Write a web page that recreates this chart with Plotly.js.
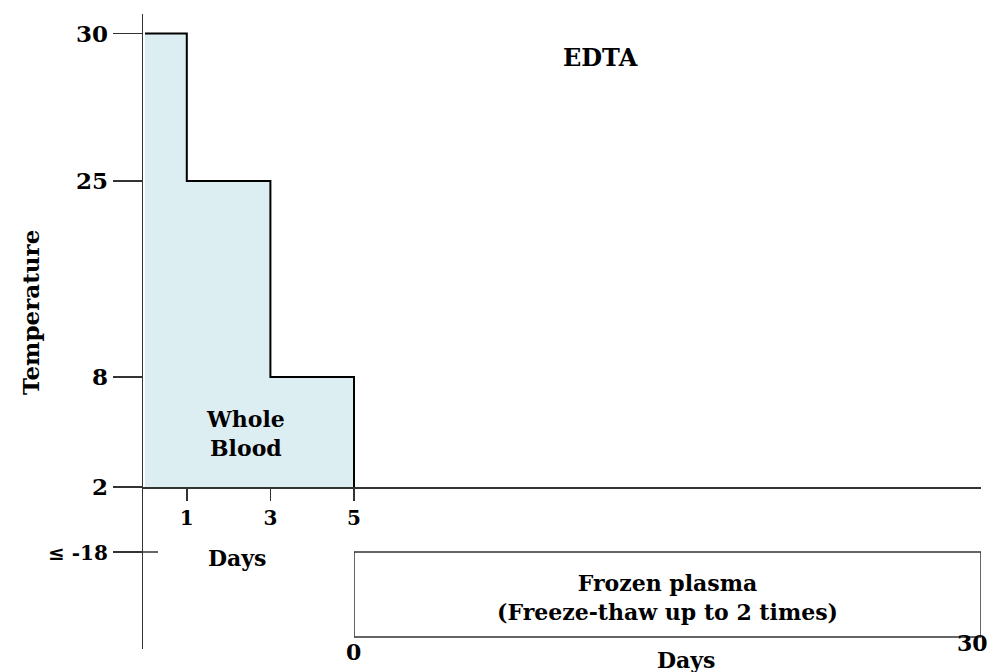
<!DOCTYPE html>
<html>
<head>
<meta charset="utf-8">
<script src="https://cdn.plot.ly/plotly-3.0.1.min.js"></script>
<style>
  html, body { margin: 0; padding: 0; background: #ffffff; }
  #chart { width: 995px; height: 672px; }
</style>
</head>
<body>
<div id="chart"></div>
<script>
// ---------- data ----------
const tempTicks   = [30, 25, 8, 2, -18];
const tempLabels  = ['30', '25', '8', '2', '\u2264 -18'];
const stepDays    = [0, 1, 1, 3, 3, 5, 5];
const stepTemps   = [30, 30, 25, 25, 8, 8, 2];
const dayTicks    = [1, 3, 5];
const frozenDays  = [0, 30];
const frozenTemp  = -18;

// ---------- layout helpers (non-linear temperature scale) ----------
const tickLevels = [615.5, 468, 272, 162, 97];   // axis positions of tempTicks
const boxBottomLevel = 12;
function level(t) {
  for (let i = 0; i < tempTicks.length - 1; i++) {
    const a = tempTicks[i], b = tempTicks[i + 1];
    if (t <= a && t >= b) {
      return tickLevels[i] + (t - a) / (b - a) * (tickLevels[i + 1] - tickLevels[i]);
    }
  }
  return t > tempTicks[0] ? tickLevels[0] : tickLevels[tickLevels.length - 1];
}

const FONT = 'DejaVu Serif, serif';
const fs = 22;
const axisCol = '#333333';

// plot area in pixels: x 143..981, y 14..649
const L = 143, R = 981, T = 14, B = 649;
const px = x => (x - L) / (R - L);
const py = y => (B - y) / (B - T);

const fillX = [0].concat(stepDays);
const fillY = [level(tempTicks[3])].concat(stepTemps.map(level));

const traces = [
  {
    x: fillX, y: fillY, xaxis: 'x', yaxis: 'y',
    type: 'scatter', mode: 'lines', fill: 'toself',
    fillcolor: '#ddeef3', line: { width: 0, color: 'rgba(0,0,0,0)' },
    hoverinfo: 'skip', showlegend: false
  },
  {
    x: stepDays, y: stepTemps.map(level), xaxis: 'x', yaxis: 'y',
    type: 'scatter', mode: 'lines',
    line: { color: '#000000', width: 2 },
    hoverinfo: 'skip', showlegend: false
  },
  {
    x: [frozenDays[0], frozenDays[1], frozenDays[1], frozenDays[0], frozenDays[0]],
    y: [level(frozenTemp), level(frozenTemp), boxBottomLevel, boxBottomLevel, level(frozenTemp)],
    xaxis: 'x2', yaxis: 'y',
    type: 'scatter', mode: 'lines',
    line: { color: axisCol, width: 1.5 },
    hoverinfo: 'skip', showlegend: false
  }
];

const bold = s => '<b>' + s + '</b>';
const ann = (text, x, y, extra) => Object.assign({
  text: bold(text), x: px(x), y: py(y), xref: 'paper', yref: 'paper',
  showarrow: false, xanchor: 'center', yanchor: 'middle',
  font: { family: FONT, size: fs, color: '#000' }
}, extra || {});

const yTickText = tempLabels.map((s, i) =>
  i === tempLabels.length - 1 ? '<span style="font-size:20px">' + bold(s) + '</span>' : bold(s));

const layout = {
  width: 995, height: 672,
  margin: { l: L, r: 995 - R, t: T, b: 672 - B, pad: 0 },
  paper_bgcolor: '#ffffff', plot_bgcolor: 'rgba(0,0,0,0)',
  showlegend: false,
  xaxis: {
    range: [(L - 145) / 41.8, (R - 145) / 41.8],
    anchor: 'free', position: py(487),
    showline: true, linecolor: axisCol, linewidth: 1.5, layer: 'above traces',
    showgrid: false, zeroline: false,
    tickmode: 'array', tickvals: dayTicks, ticktext: dayTicks.map(d => bold(String(d))),
    ticks: 'outside', ticklen: 12, tickwidth: 1.5, tickcolor: axisCol,
    tickfont: { family: FONT, size: 20, color: '#000' },
    fixedrange: true
  },
  xaxis2: {
    domain: [px(354), 1], range: frozenDays, anchor: 'y',
    visible: false, fixedrange: true
  },
  yaxis: {
    range: [0, B - T], anchor: 'x',
    showline: true, linecolor: axisCol, linewidth: 1.5,
    showgrid: false, zeroline: false,
    tickmode: 'array', tickvals: tempTicks.map(level), ticktext: yTickText,
    ticks: 'outside', ticklen: 29, tickwidth: 1.5, tickcolor: axisCol,
    tickfont: { family: FONT, size: 23, color: '#000' },
    fixedrange: true
  },
  shapes: [
    { type: 'line', xref: 'paper', yref: 'y', x0: 0, x1: px(158),
      y0: level(frozenTemp), y1: level(frozenTemp),
      line: { color: axisCol, width: 1.5 } }
  ],
  annotations: [
    ann('Temperature', 30, 313, { textangle: -90, font: { family: FONT, size: 23, color: '#000' } }),
    ann('EDTA', 600, 57, { font: { family: FONT, size: 24, color: '#000' } }),
    ann('Whole<br>Blood', 245.5, 433),
    ann('Days', 237, 558),
    ann('Frozen plasma<br>(Freeze-thaw up to 2 times)', 667.5, 597),
    ann('Days', 686, 660),
    ann('0', 353, 652),
    ann('30', 972, 643)
  ]
};

Plotly.newPlot('chart', traces, layout, { displayModeBar: false, staticPlot: true });
</script>
</body>
</html>
